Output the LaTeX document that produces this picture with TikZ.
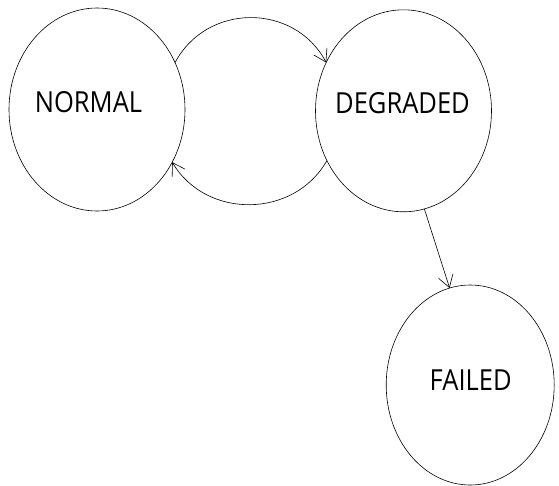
\documentclass[tikz,border=0pt]{standalone}
\usepackage{fontspec}
\setmainfont{Open Sans}[FakeStretch=0.88]
\usetikzlibrary{shapes.geometric,arrows.meta}

\tikzset{every picture/.style={line width=0.6pt}}
\tikzset{
  statebox/.style={draw, ellipse, inner sep=0pt, outer sep=0pt},
  statetext/.style={font=\fontsize{29}{34}\selectfont, inner sep=0pt},
  barb/.style={-{Straight Barb[length=12pt,width=15pt]}}
}

\begin{document}
\begin{tikzpicture}[x=1pt,y=1pt,yscale=1,xscale=1]
\useasboundingbox (0,0) rectangle (559,-485);

%Ellipses
\node [statebox, minimum width=176, minimum height=203] (normal) at (97,-109.5) {};
\node [statebox, minimum width=176, minimum height=202] (degraded) at (403.5,-110.8) {};
\node [statebox, minimum width=168, minimum height=200] (failed) at (470.2,-385) {};

%Texts
\node [statetext] (normaltext) at ([shift={(-8.5,7.5)}]normal.center) {NORMAL};
\node [statetext] (degradedtext) at ([shift={(-1,8)}]degraded.center) {DEGRADED};
\node [statetext] (failedtext) at ([shift={(0.5,5)}]failed.center) {FAILED};

%Curve Lines
\draw [barb] (normal.31) to [bend left=62, looseness=1.15] (degraded.148);
\draw [barb] (degraded.213) to [bend left=60, looseness=1.1] (normal.-35);
%Straight Lines
\draw [barb] (degraded.-78) -- (failed.102);

\end{tikzpicture}
\end{document}
